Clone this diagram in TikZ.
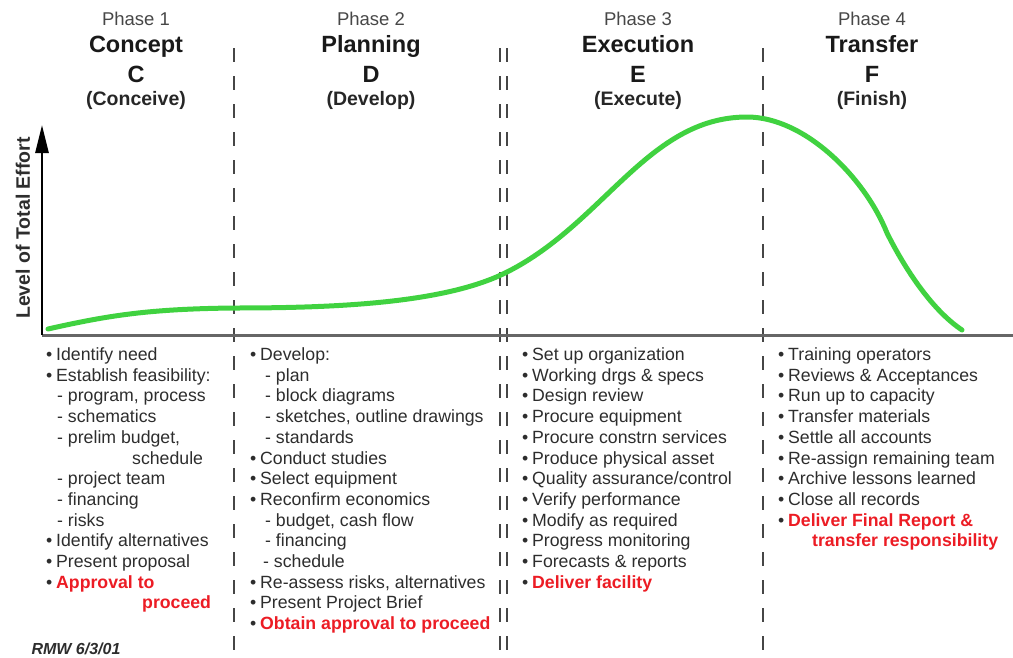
\documentclass[tikz,border=0pt]{standalone}
\usepackage{fontspec}
\setmainfont{Liberation Sans}
\usepackage{xcolor}
\usepackage{tikz}
\usetikzlibrary{arrows.meta}

\definecolor{curvegreen}{RGB}{64,210,64}
\definecolor{textgray}{RGB}{45,45,45}
\definecolor{alertred}{RGB}{236,28,36}
\definecolor{linegray}{RGB}{70,70,70}

\newcommand{\itm}{\makebox[10pt][l]{•}}
\newcommand{\redtxt}[1]{{\color{alertred}\bfseries #1}}

\tikzset{
    phaselbl/.style={font=\fontsize{18.5}{20}\selectfont, text=black!72, anchor=base},
    phasename/.style={font=\fontsize{23.5}{26}\selectfont\bfseries, text=black!90, anchor=base},
    phaseverb/.style={font=\fontsize{19.5}{22}\selectfont\bfseries, text=black!85, anchor=base},
    bulletlist/.style={font=\fontsize{17.7}{20.7}\selectfont, text=textgray, align=left, anchor=north west, inner sep=0pt},
    divider/.style={linegray, line width=2pt, dash pattern=on 14pt off 14pt},
}

\begin{document}
\begin{tikzpicture}[x=1pt, y=-1pt]
    \useasboundingbox (0,0) rectangle (1013,657);

    % Phase headings
    \node[phaselbl] (phase1) at (136,25) {Phase 1};
    \node[phasename] (title1) at (136,52.5) {Concept};
    \node[phasename] (letter1) at (136,82) {C};
    \node[phaseverb] (verb1) at (136,105.5) {(Conceive)};

    \node[phaselbl] (phase2) at (371,25) {Phase 2};
    \node[phasename] (title2) at (371,52.5) {Planning};
    \node[phasename] (letter2) at (371,82) {D};
    \node[phaseverb] (verb2) at (371,105.5) {(Develop)};

    \node[phaselbl] (phase3) at (638,25) {Phase 3};
    \node[phasename] (title3) at (638,52.5) {Execution};
    \node[phasename] (letter3) at (638,82) {E};
    \node[phaseverb] (verb3) at (638,105.5) {(Execute)};

    \node[phaselbl] (phase4) at (872,25) {Phase 4};
    \node[phasename] (title4) at (872,52.5) {Transfer};
    \node[phasename] (letter4) at (872,82) {F};
    \node[phaseverb] (verb4) at (872,105.5) {(Finish)};

    % Phase dividers
    \draw[divider] (234,48) -- (234,657);
    \draw[divider] (500,48) -- (500,657);
    \draw[divider] (507,48) -- (507,657);
    \draw[divider] (763,48) -- (763,657);

    % Axes
    \coordinate (origin) at (42,335);
    \coordinate (ytop) at (42,125);
    \coordinate (xend) at (1013,335);
    \draw[black!60, line width=3pt] (origin) -- (xend);
    \draw[-{Triangle[length=28pt, width=13pt]}, line width=2.6pt] (origin) -- (ytop);
    \node[font=\fontsize{19.5}{21}\selectfont\bfseries, rotate=90, text=textgray] (ylabel) at (23,228) {Level of Total Effort};

    % Effort curve
    \draw[curvegreen, line width=5pt, line cap=round]
        (48,329) .. controls (110,315) and (150,309) .. (233,308)
                 .. controls (330,308) and (440,304) .. (503,274)
                 .. controls (603,226) and (647,117) .. (747,117)
                 .. controls (805,117) and (865,178) .. (887,233)
                 .. controls (905,269) and (932,310) .. (962,330);

    % Activity lists
    \node[bulletlist] (list1) at (46,347.5) {%
        \itm Identify need\\
        \itm Establish feasibility:\\
        \hspace*{11pt}- program, process\\
        \hspace*{11pt}- schematics\\
        \hspace*{11pt}- prelim budget,\\
        \hspace*{86pt}schedule\\
        \hspace*{11pt}- project team\\
        \hspace*{11pt}- financing\\
        \hspace*{11pt}- risks\\
        \itm Identify alternatives\\
        \itm Present proposal\\
        \itm \redtxt{Approval to}\\
        \hspace*{96pt}\redtxt{proceed}};

    \node[bulletlist] (list2) at (250,347.5) {%
        \itm Develop:\\
        \hspace*{15pt}- plan\\
        \hspace*{15pt}- block diagrams\\
        \hspace*{15pt}- sketches, outline drawings\\
        \hspace*{15pt}- standards\\
        \itm Conduct studies\\
        \itm Select equipment\\
        \itm Reconfirm economics\\
        \hspace*{15pt}- budget, cash flow\\
        \hspace*{15pt}- financing\\
        \hspace*{13pt}- schedule\\
        \itm Re-assess risks, alternatives\\
        \itm Present Project Brief\\
        \itm \redtxt{Obtain approval to proceed}};

    \node[bulletlist] (list3) at (522,347.5) {%
        \itm Set up organization\\
        \itm Working drgs \& specs\\
        \itm Design review\\
        \itm Procure equipment\\
        \itm Procure constrn services\\
        \itm Produce physical asset\\
        \itm Quality assurance/control\\
        \itm Verify performance\\
        \itm Modify as required\\
        \itm Progress monitoring\\
        \itm Forecasts \& reports\\
        \itm \redtxt{Deliver facility}};

    \node[bulletlist] (list4) at (778,347.5) {%
        \itm Training operators\\
        \itm Reviews \& Acceptances\\
        \itm Run up to capacity\\
        \itm Transfer materials\\
        \itm Settle all accounts\\
        \itm Re-assign remaining team\\
        \itm Archive lessons learned\\
        \itm Close all records\\
        \itm \redtxt{Deliver Final Report \&}\\
        \hspace*{34pt}\redtxt{transfer responsibility}};

    % Date stamp
    \node[font=\fontsize{16}{18}\selectfont\bfseries\itshape, text=textgray] (stamp) at (76,649) {RMW 6/3/01};
\end{tikzpicture}
\end{document}
